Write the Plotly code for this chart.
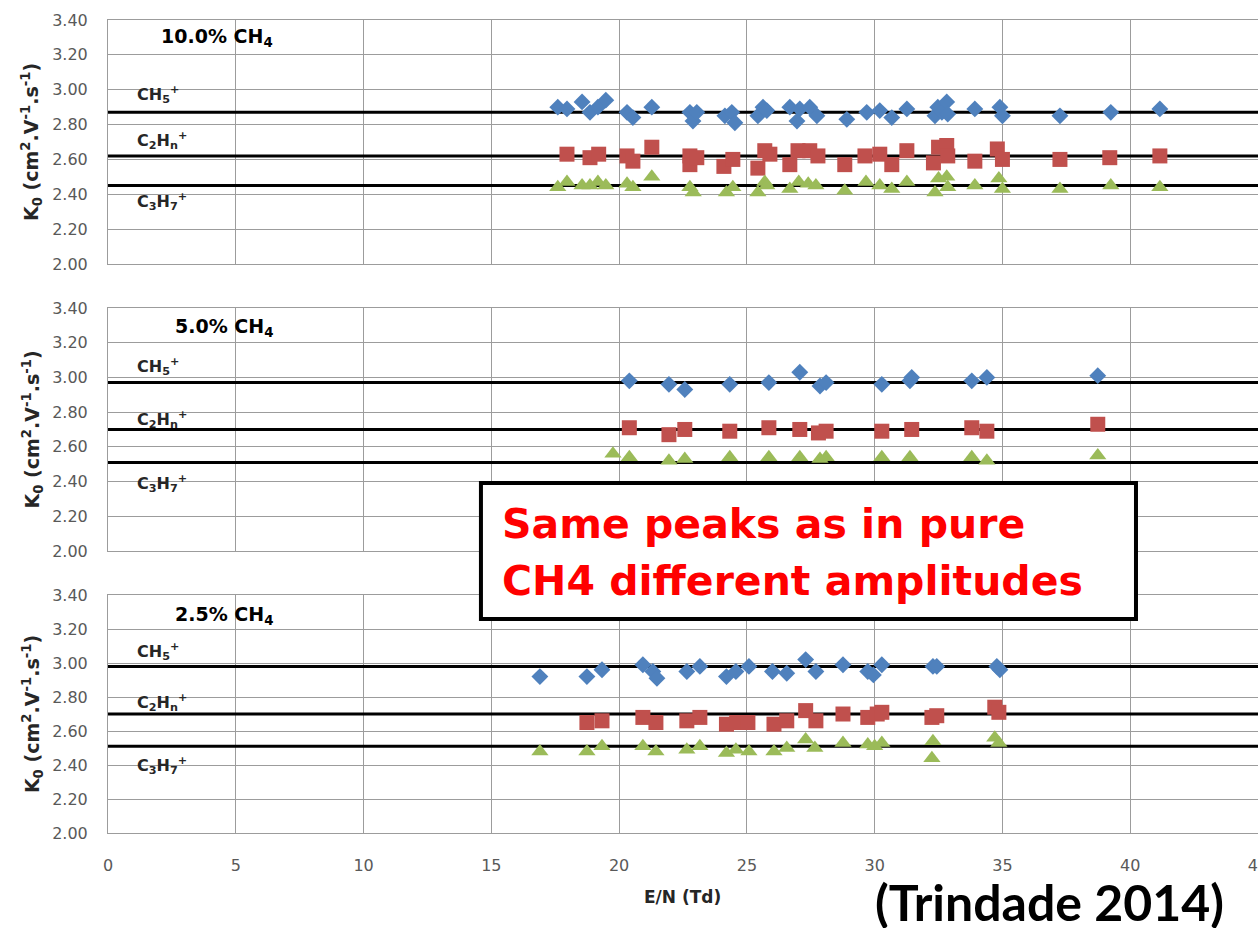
import plotly.graph_objects as go

# ---- Data: reduced mobility K0 vs E/N for three CH4 mixtures ----
# 10.0 % CH4
p10_ch5_x = [17.6, 17.96, 18.55, 18.86, 19.17, 19.48, 20.31, 20.54, 21.28, 22.77, 22.89, 23.04,
             24.14, 24.41, 24.53, 25.43, 25.63, 25.78, 26.68, 26.96, 27.07, 27.46, 27.74, 28.91,
             29.69, 30.20, 30.67, 31.26, 32.36, 32.47, 32.63, 32.82, 32.86, 33.92, 34.90, 35.00,
             37.25, 39.24, 41.16]
p10_ch5_y = [2.90, 2.89, 2.93, 2.87, 2.90, 2.94, 2.87, 2.84, 2.90, 2.87, 2.82, 2.87,
             2.85, 2.87, 2.81, 2.85, 2.90, 2.88, 2.90, 2.82, 2.89, 2.90, 2.85, 2.83,
             2.87, 2.88, 2.84, 2.89, 2.85, 2.90, 2.87, 2.93, 2.86, 2.89, 2.90, 2.85,
             2.85, 2.87, 2.89]
p10_c2_x = [17.96, 18.86, 19.20, 20.31, 20.54, 21.28, 22.77, 22.77, 23.04, 24.10, 24.45, 25.43,
            25.70, 25.90, 26.68, 27.00, 27.46, 27.78, 28.83, 29.62, 30.20, 30.67, 31.26, 32.30,
            32.50, 32.82, 32.86, 33.92, 34.80, 35.00, 37.25, 39.20, 41.16]
p10_c2_y = [2.63, 2.61, 2.63, 2.62, 2.59, 2.67, 2.62, 2.57, 2.61, 2.56, 2.60, 2.55,
            2.65, 2.63, 2.57, 2.65, 2.65, 2.62, 2.57, 2.62, 2.63, 2.57, 2.65, 2.58,
            2.67, 2.68, 2.62, 2.59, 2.66, 2.60, 2.60, 2.61, 2.62]
p10_c3_x = [17.6, 17.96, 18.55, 18.86, 19.17, 19.48, 20.31, 20.54, 21.28, 22.77, 22.90, 24.20,
            24.45, 25.43, 25.70, 25.78, 26.68, 27.03, 27.40, 27.70, 28.83, 29.66, 30.20, 30.67,
            31.26, 32.36, 32.50, 32.82, 32.86, 33.92, 34.86, 35.00, 37.25, 39.24, 41.16]
p10_c3_y = [2.44, 2.47, 2.45, 2.45, 2.47, 2.45, 2.46, 2.44, 2.50, 2.44, 2.41, 2.41,
            2.44, 2.41, 2.47, 2.45, 2.43, 2.47, 2.46, 2.45, 2.42, 2.47, 2.45, 2.43,
            2.47, 2.41, 2.49, 2.50, 2.44, 2.45, 2.49, 2.43, 2.43, 2.45, 2.44]
p10_ref = [2.87, 2.62, 2.45]

# 5.0 % CH4
p5_ch5_x = [20.40, 21.95, 22.57, 24.33, 25.86, 27.07, 27.86, 28.10, 30.28, 31.38, 31.45,
            33.80, 34.39, 38.73]
p5_ch5_y = [2.98, 2.96, 2.93, 2.96, 2.97, 3.03, 2.95, 2.97, 2.96, 2.98, 3.00,
            2.98, 3.00, 3.01]
p5_c2_x = [20.40, 21.95, 22.57, 24.33, 25.86, 27.07, 27.80, 28.10, 30.28, 31.45, 33.80, 34.39, 38.73]
p5_c2_y = [2.71, 2.67, 2.70, 2.69, 2.71, 2.70, 2.68, 2.69, 2.69, 2.70, 2.71, 2.69, 2.73]
p5_c3_x = [19.76, 20.40, 21.95, 22.57, 24.33, 25.86, 27.07, 27.86, 28.10, 30.28, 31.38,
           33.80, 34.39, 38.73]
p5_c3_y = [2.56, 2.54, 2.52, 2.53, 2.54, 2.54, 2.54, 2.53, 2.54, 2.54, 2.54,
           2.54, 2.52, 2.55]
p5_ref = [2.97, 2.70, 2.51]

# 2.5 % CH4
p25_ch5_x = [16.90, 18.74, 19.33, 20.93, 21.32, 21.48, 22.65, 23.16, 24.20, 24.57, 25.08,
             26.00, 26.56, 27.30, 27.70, 28.76, 29.73, 29.95, 30.28, 32.28, 32.43, 34.78, 34.90]
p25_ch5_y = [2.92, 2.92, 2.96, 2.99, 2.95, 2.91, 2.95, 2.98, 2.92, 2.95, 2.98,
             2.95, 2.94, 3.02, 2.95, 2.99, 2.95, 2.93, 2.99, 2.98, 2.98, 2.98, 2.96]
p25_c2_x = [18.74, 19.33, 20.93, 21.44, 22.65, 23.16, 24.20, 24.60, 25.04, 26.06, 26.56,
            27.30, 27.70, 28.76, 29.73, 30.10, 30.28, 32.24, 32.43, 34.70, 34.86]
p25_c2_y = [2.65, 2.66, 2.68, 2.65, 2.66, 2.68, 2.64, 2.65, 2.65, 2.64, 2.66,
            2.72, 2.66, 2.70, 2.68, 2.70, 2.71, 2.68, 2.69, 2.74, 2.71]
p25_c3_x = [16.90, 18.74, 19.33, 20.93, 21.44, 22.65, 23.16, 24.20, 24.57, 25.08, 26.06,
            26.56, 27.30, 27.66, 28.76, 29.73, 30.00, 30.28, 32.28, 32.24, 34.70, 34.86]
p25_c3_y = [2.48, 2.48, 2.51, 2.51, 2.48, 2.49, 2.51, 2.47, 2.49, 2.48, 2.48,
            2.50, 2.55, 2.50, 2.53, 2.52, 2.51, 2.53, 2.54, 2.44, 2.56, 2.53]
p25_ref = [2.98, 2.70, 2.51]

panel_titles = ["10.0% CH<sub>4</sub>", "5.0% CH<sub>4</sub>", "2.5% CH<sub>4</sub>"]
ion_labels = ["CH<sub>5</sub><sup>+</sup>", "C<sub>2</sub>H<sub>n</sub><sup>+</sup>",
              "C<sub>3</sub>H<sub>7</sub><sup>+</sup>"]
x_ticks = [0, 5, 10, 15, 20, 25, 30, 35, 40, 45]
y_ticks = [2.00, 2.20, 2.40, 2.60, 2.80, 3.00, 3.20, 3.40]

panels = [
    (p10_ch5_x, p10_ch5_y, p10_c2_x, p10_c2_y, p10_c3_x, p10_c3_y, p10_ref),
    (p5_ch5_x, p5_ch5_y, p5_c2_x, p5_c2_y, p5_c3_x, p5_c3_y, p5_ref),
    (p25_ch5_x, p25_ch5_y, p25_c2_x, p25_c2_y, p25_c3_x, p25_c3_y, p25_ref),
]

BLUE, RED, GREEN = "#4F81BD", "#C0504D", "#9BBB59"
GRID = "#9c9c9c"
SANS = "DejaVu Sans, sans-serif"
TICKFONT = dict(family=SANS, size=16, color="#595959")
LABELFONT = dict(family=SANS, size=16, color="#262626")

# panel vertical domains (top, middle, bottom)
domains = [[0.6999, 1.0], [0.3469, 0.6458], [0.0, 0.2927]]
# ion label heights per panel
ion_label_y = [[2.97, 2.71, 2.36], [3.06, 2.755, 2.39], [3.065, 2.77, 2.40]]

fig = go.Figure()
layout = {}
annotations = []

for i, (cx, cy, c2x, c2y, c3x, c3y, ref) in enumerate(panels):
    n = i + 1
    xa = "x" if n == 1 else f"x{n}"
    ya = "y" if n == 1 else f"y{n}"
    xkey = "xaxis" if n == 1 else f"xaxis{n}"
    ykey = "yaxis" if n == 1 else f"yaxis{n}"

    # horizontal reference levels
    for r in ref:
        fig.add_trace(go.Scatter(x=[x_ticks[0], x_ticks[-1]], y=[r, r], mode="lines",
                                 line=dict(color="black", width=3), showlegend=False,
                                 hoverinfo="skip", xaxis=xa, yaxis=ya))
    fig.add_trace(go.Scatter(x=c2x, y=c2y, mode="markers", showlegend=False,
                             marker=dict(symbol="square", size=15, color=RED),
                             xaxis=xa, yaxis=ya))
    fig.add_trace(go.Scatter(x=c3x, y=c3y, mode="markers", showlegend=False,
                             marker=dict(symbol="triangle-up", size=15, color=GREEN),
                             xaxis=xa, yaxis=ya))
    fig.add_trace(go.Scatter(x=cx, y=cy, mode="markers", showlegend=False,
                             marker=dict(symbol="diamond", size=13, color=BLUE),
                             xaxis=xa, yaxis=ya))

    layout[xkey] = dict(range=[x_ticks[0], x_ticks[-1]], tickvals=x_ticks, domain=[0, 1],
                        anchor=ya, showgrid=True, gridcolor=GRID, gridwidth=1,
                        showline=True, linecolor=GRID, linewidth=1, mirror=True,
                        zeroline=False, showticklabels=(n == 3), tickfont=TICKFONT,
                        ticklabeloverflow="allow", automargin=False,
                        ticks="outside", ticklen=18, tickcolor="rgba(0,0,0,0)")
    layout[ykey] = dict(range=[y_ticks[0], y_ticks[-1]], tickvals=y_ticks, tickformat=".2f",
                        domain=domains[i], anchor=xa, showgrid=True, gridcolor=GRID,
                        gridwidth=1, showline=True, linecolor=GRID, linewidth=1,
                        zeroline=False, tickfont=TICKFONT, automargin=False,
                        ticks="outside", ticklen=16, tickcolor="rgba(0,0,0,0)")

    # panel title
    annotations.append(dict(x=6.55, y=3.30 - 0.01 * i, xref=xa, yref=ya, xanchor="right",
                            yanchor="middle", showarrow=False, text=f"<b>{panel_titles[i]}</b>",
                            font=dict(family=SANS, size=19, color="black")))
    # ion labels
    for lab, ly in zip(ion_labels, ion_label_y[i]):
        annotations.append(dict(x=1.05, y=ly, xref=xa, yref=ya, xanchor="left",
                                yanchor="middle", showarrow=False, text=f"<b>{lab}</b>",
                                font=LABELFONT))
    # y-axis title
    annotations.append(dict(x=-0.066, y=0.5, xref="paper", yref=f"{ya} domain",
                            xanchor="center", yanchor="middle", textangle=-90,
                            showarrow=False,
                            text="<b>K<sub>0</sub> (cm<sup>2</sup>.V<sup>-1</sup>.s<sup>-1</sup>)</b>",
                            font=dict(family=SANS, size=19, color="#262626")))

# x-axis title
annotations.append(dict(x=0.4998, y=-0.079, xref="paper", yref="paper", xanchor="center",
                        yanchor="middle", showarrow=False, text="<b>E/N (Td)</b>",
                        font=dict(family=SANS, size=17, color="#262626")))

# callout box text, one annotation per line
for txt, yy in (("Same peaks as in pure", 0.3801), ("CH4 different amplitudes", 0.3100)):
    annotations.append(dict(x=0.3409, y=yy, xref="paper", yref="paper", xanchor="left",
                            yanchor="middle", align="left", showarrow=False,
                            text=f"<b>{txt}</b>",
                            font=dict(family=SANS, size=41, color="#FF0000")))
# citation
annotations.append(dict(x=0.8191, y=-0.0845, xref="paper", yref="paper", xanchor="center",
                        yanchor="middle", showarrow=False, text="<b>(Trindade 2014)</b>",
                        font=dict(family="Lato, sans-serif", size=50, color="black")))

shapes = [dict(type="rect", xref="paper", yref="paper", x0=0.3243, x1=0.8939,
               y0=0.2632, y1=0.4305, line=dict(color="black", width=4),
               fillcolor="white", layer="above")]

fig.update_layout(width=1258, height=928, autosize=False,
                  margin=dict(l=108, r=0, t=20, b=95, autoexpand=False),
                  paper_bgcolor="white", plot_bgcolor="white",
                  annotations=annotations, shapes=shapes, **layout)

fig.write_html("out.html")
